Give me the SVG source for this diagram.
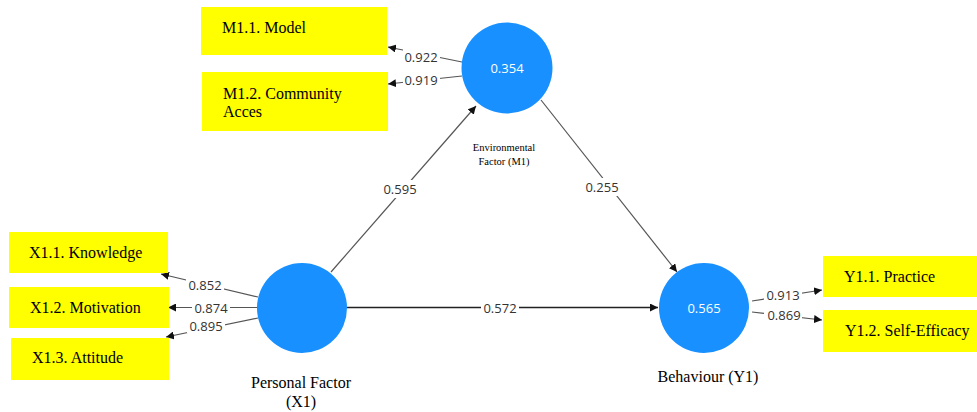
<svg xmlns="http://www.w3.org/2000/svg" width="977" height="412" viewBox="0 0 977 412">
<style>
.box{fill:#ffff00}
.ind{font-family:"Liberation Serif",serif;font-size:16px;fill:#000}
.lat{fill:#1890ff}
.r2{font-family:"Open Sans","Noto Sans",sans-serif;font-size:13px;fill:#fff;text-anchor:middle}
.cap{font-family:"Liberation Serif",serif;font-size:16px;fill:#000;text-anchor:middle}
.capS{font-family:"Liberation Serif",serif;font-size:10.5px;fill:#000;text-anchor:middle}
.ln{stroke:#555;stroke-width:1.2;fill:none;marker-end:url(#ah)}
.lnd{stroke:#222;stroke-width:1.3;fill:none;marker-end:url(#ah)}
.lbl{font-family:"Open Sans","Noto Sans",sans-serif;font-size:13px;fill:#333;text-anchor:middle;dominant-baseline:central}
.bg{fill:#fff}
</style>
<defs>
<marker id="ah" viewBox="0 0 10 10" refX="10" refY="5" markerWidth="8" markerHeight="8" markerUnits="userSpaceOnUse" orient="auto">
<path d="M0,0 L10,5 L0,10 z" fill="#111"/>
</marker>
</defs>
<rect width="977" height="412" fill="#fff"/>

<g id="connectors">
<line class="ln" x1="331" y1="272" x2="476" y2="106"/>
<rect class="bg" x="382" y="180" width="36" height="18"/>
<text class="lbl" x="400" y="189">0.595</text>

<line class="ln" x1="541" y1="100" x2="677" y2="272"/>
<rect class="bg" x="584" y="178" width="36" height="18"/>
<text class="lbl" x="602" y="187">0.255</text>

<line class="lnd" x1="347" y1="307.5" x2="658" y2="307.5"/>
<rect class="bg" x="481" y="299" width="38" height="18"/>
<text class="lbl" x="500" y="307.5">0.572</text>

<line class="ln" x1="462" y1="62" x2="388" y2="47"/>
<rect class="bg" x="403" y="49" width="37" height="16"/>
<text class="lbl" x="421" y="57">0.922</text>
<line class="ln" x1="462" y1="76" x2="388" y2="84"/>
<rect class="bg" x="403" y="72" width="37" height="16"/>
<text class="lbl" x="421" y="80">0.919</text>

<line class="ln" x1="258" y1="297" x2="161" y2="274"/>
<rect class="bg" x="186" y="277" width="38" height="16"/>
<text class="lbl" x="205" y="285">0.852</text>
<line class="ln" x1="258" y1="307.5" x2="168" y2="307.5"/>
<rect class="bg" x="192" y="299" width="38" height="17"/>
<text class="lbl" x="211" y="307.5">0.874</text>
<line class="ln" x1="258" y1="318" x2="166" y2="337"/>
<rect class="bg" x="187" y="318" width="38" height="15"/>
<text class="lbl" x="206" y="326">0.895</text>

<line class="ln" x1="752" y1="301" x2="822" y2="290"/>
<rect class="bg" x="764" y="287" width="38" height="16"/>
<text class="lbl" x="783" y="295">0.913</text>
<line class="ln" x1="752" y1="312" x2="822" y2="320"/>
<rect class="bg" x="764" y="307" width="38" height="16"/>
<text class="lbl" x="784" y="315">0.869</text>
</g>

<g id="M1">
<circle class="lat" cx="507" cy="68" r="45.5"/>
<text class="r2" x="507" y="72.5">0.354</text>
<text class="capS" x="504" y="151">Environmental</text>
<text class="capS" x="504" y="165">Factor (M1)</text>
</g>
<g id="X1">
<circle class="lat" cx="302" cy="308" r="45"/>
<text class="cap" x="301" y="388">Personal Factor</text>
<text class="cap" x="301" y="407">(X1)</text>
</g>
<g id="Y1">
<circle class="lat" cx="704" cy="308" r="45"/>
<text class="r2" x="704" y="312.5">0.565</text>
<text class="cap" x="708" y="382">Behaviour (Y1)</text>
</g>

<g id="M1_1"><rect class="box" x="201" y="7" width="186" height="48"/><text class="ind" x="222" y="33">M1.1. Model</text></g>
<g id="M1_2"><rect class="box" x="202" y="72" width="186" height="59"/><text class="ind" x="223" y="99">M1.2. Community</text><text class="ind" x="223" y="117">Acces</text></g>
<g id="X1_1"><rect class="box" x="9" y="232" width="159" height="41"/><text class="ind" x="29" y="258">X1.1. Knowledge</text></g>
<g id="X1_2"><rect class="box" x="9" y="287" width="160" height="41"/><text class="ind" x="30" y="313">X1.2. Motivation</text></g>
<g id="X1_3"><rect class="box" x="11" y="338" width="158" height="42"/><text class="ind" x="32" y="363">X1.3. Attitude</text></g>
<g id="Y1_1"><rect class="box" x="823" y="256" width="154" height="41"/><text class="ind" x="844" y="282">Y1.1. Practice</text></g>
<g id="Y1_2"><rect class="box" x="823" y="310" width="154" height="42"/><text class="ind" x="845" y="336">Y1.2. Self-Efficacy</text></g>
</svg>
